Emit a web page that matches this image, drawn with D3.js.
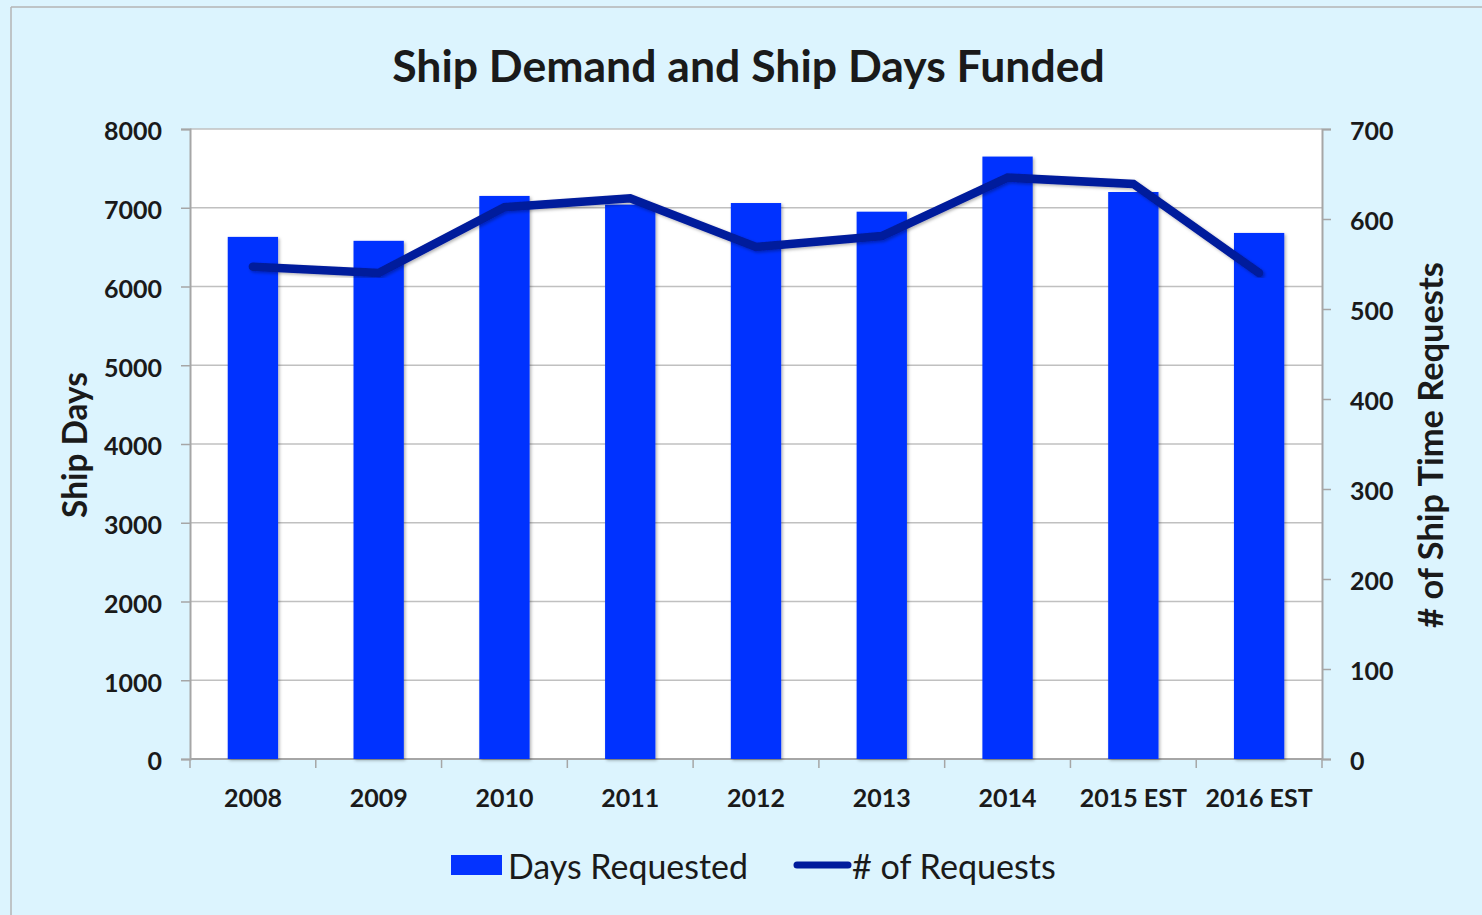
<!DOCTYPE html>
<html>
<head>
<meta charset="utf-8">
<script src="https://cdn.jsdelivr.net/npm/d3@7"></script>
<style>
  html, body { margin: 0; padding: 0; background: #dcf4fe; }
  svg { display: block; }
  text { font-family: Lato, "Open Sans", sans-serif; fill: #1a1a1a; }
</style>
</head>
<body>
<svg id="chart" width="1482" height="915"></svg>
<script>
const categories = ["2008", "2009", "2010", "2011", "2012", "2013", "2014", "2015 EST", "2016 EST"];
const daysRequested = [6630, 6580, 7150, 7040, 7060, 6950, 7650, 7200, 6680];
const numRequests = [547, 540, 613, 623, 569, 581, 646, 639, 540];
const leftTicks = [0, 1000, 2000, 3000, 4000, 5000, 6000, 7000, 8000];
const rightTicks = [0, 100, 200, 300, 400, 500, 600, 700];

const svg = d3.select("#chart");
const W = 1482, H = 915;
const plot = { left: 190, right: 1322, top: 129, bottom: 759 };

// background and frame
svg.append("rect").attr("width", W).attr("height", H).attr("fill", "#dcf4fe");
svg.append("line").attr("x1", 11).attr("x2", 11).attr("y1", 7).attr("y2", H)
  .attr("stroke", "#b4b4b4").attr("stroke-width", 1.5);
svg.append("line").attr("x1", 11).attr("x2", W).attr("y1", 7).attr("y2", 7)
  .attr("stroke", "#b4b4b4").attr("stroke-width", 1.5);

const defs = svg.append("defs");
const f = defs.append("filter").attr("id", "shadow").attr("x", "-20%").attr("y", "-5%").attr("width", "140%").attr("height", "110%");
f.append("feDropShadow").attr("dx", 1.5).attr("dy", 1.5).attr("stdDeviation", 1.5)
  .attr("flood-color", "#000").attr("flood-opacity", 0.3);

// plot area
svg.append("rect").attr("x", plot.left).attr("y", plot.top)
  .attr("width", plot.right - plot.left).attr("height", plot.bottom - plot.top)
  .attr("fill", "#ffffff");

const x = d3.scaleBand().domain(categories).range([plot.left, plot.right]).paddingInner(0).paddingOuter(0);
const yL = d3.scaleLinear().domain([0, 8000]).range([plot.bottom, plot.top]);
const yR = d3.scaleLinear().domain([0, 700]).range([plot.bottom, plot.top]);

// gridlines
svg.append("g").selectAll("line").data(leftTicks.filter(d => d > 0)).join("line")
  .attr("x1", plot.left).attr("x2", plot.right)
  .attr("y1", d => yL(d)).attr("y2", d => yL(d))
  .attr("stroke", "#c0c0c0").attr("stroke-width", 1.5);

// left axis
const gL = svg.append("g").attr("transform", `translate(${plot.left},0)`)
  .call(d3.axisLeft(yL).tickValues(leftTicks).tickSize(9).tickPadding(19).tickFormat(d3.format("d")));
gL.select(".domain").attr("stroke", "#a6a6a6").attr("stroke-width", 2);
gL.selectAll(".tick line").attr("stroke", "#a6a6a6").attr("stroke-width", 1.5);
gL.selectAll(".tick text").attr("font-size", 25).attr("font-weight", 700).attr("fill", "#1a1a1a")
  .attr("font-family", "Lato, sans-serif").attr("dy", "0.43em");

// right axis
const gR = svg.append("g").attr("transform", `translate(${plot.right},0)`)
  .call(d3.axisRight(yR).tickValues(rightTicks).tickSize(9).tickPadding(19).tickFormat(d3.format("d")));
gR.select(".domain").attr("stroke", "#a6a6a6").attr("stroke-width", 2);
gR.selectAll(".tick line").attr("stroke", "#a6a6a6").attr("stroke-width", 1.5);
gR.selectAll(".tick text").attr("font-size", 25).attr("font-weight", 700).attr("fill", "#1a1a1a")
  .attr("font-family", "Lato, sans-serif").attr("dy", "0.43em");

// bottom axis with ticks at band boundaries
const gB = svg.append("g").attr("transform", `translate(0,${plot.bottom})`);
gB.append("line").attr("x1", plot.left).attr("x2", plot.right).attr("y1", 0).attr("y2", 0)
  .attr("stroke", "#a6a6a6").attr("stroke-width", 2);
const boundaries = categories.map(c => x(c)).concat([plot.right]);
gB.selectAll("line.tk").data(boundaries).join("line").attr("class", "tk")
  .attr("x1", d => d).attr("x2", d => d).attr("y1", 0).attr("y2", 9)
  .attr("stroke", "#a6a6a6").attr("stroke-width", 1.5);
gB.selectAll("text").data(categories).join("text")
  .attr("x", d => x(d) + x.bandwidth() / 2).attr("y", 48)
  .attr("text-anchor", "middle").attr("font-size", 25).attr("font-weight", 700)
  .text(d => d);

// bars
const barW = x.bandwidth() * 0.4;
svg.append("g").selectAll("rect").data(categories).join("rect")
  .attr("x", (d) => x(d) + (x.bandwidth() - barW) / 2)
  .attr("y", (d, i) => yL(daysRequested[i]))
  .attr("width", barW)
  .attr("height", (d, i) => plot.bottom - yL(daysRequested[i]))
  .attr("fill", "#0433ff")
  .attr("filter", "url(#shadow)");

// line
const line = d3.line()
  .x((d, i) => x(categories[i]) + x.bandwidth() / 2)
  .y(d => yR(d));
svg.append("path").datum(numRequests).attr("d", line)
  .attr("fill", "none").attr("stroke", "#001b9c").attr("stroke-width", 8.5)
  .attr("stroke-linejoin", "miter").attr("stroke-linecap", "round")
  .attr("filter", "url(#shadow)");

// title
function fit(sel, target) {
  const n = sel.node();
  const w = n.getComputedTextLength();
  const fs = parseFloat(sel.attr("font-size"));
  sel.attr("font-size", fs * target / w);
}
const title = svg.append("text").attr("x", 748.5).attr("y", 82).attr("text-anchor", "middle")
  .attr("font-size", 44).attr("font-weight", 700).text("Ship Demand and Ship Days Funded");
fit(title, 713);

// axis titles
const lt = svg.append("text").attr("transform", "translate(87,445) rotate(-90)")
  .attr("text-anchor", "middle").attr("font-size", 32).attr("font-weight", 700).text("Ship Days");
fit(lt, 146);
const rt = svg.append("text").attr("transform", "translate(1443,445) rotate(-90)")
  .attr("text-anchor", "middle").attr("font-size", 32).attr("font-weight", 700).text("# of Ship Time Requests");
fit(rt, 366);

// legend
const lg = svg.append("g");
lg.append("rect").attr("x", 451).attr("y", 855).attr("width", 51).attr("height", 20).attr("fill", "#0433ff");
const l1 = lg.append("text").attr("x", 508).attr("y", 879).attr("font-size", 32).text("Days Requested");
fit(l1, 240);
lg.append("line").attr("x1", 797).attr("x2", 848).attr("y1", 865).attr("y2", 865)
  .attr("stroke", "#001b9c").attr("stroke-width", 7).attr("stroke-linecap", "round");
const l2 = lg.append("text").attr("x", 852).attr("y", 879).attr("font-size", 32).text("# of Requests");
fit(l2, 204);
</script>
</body>
</html>
